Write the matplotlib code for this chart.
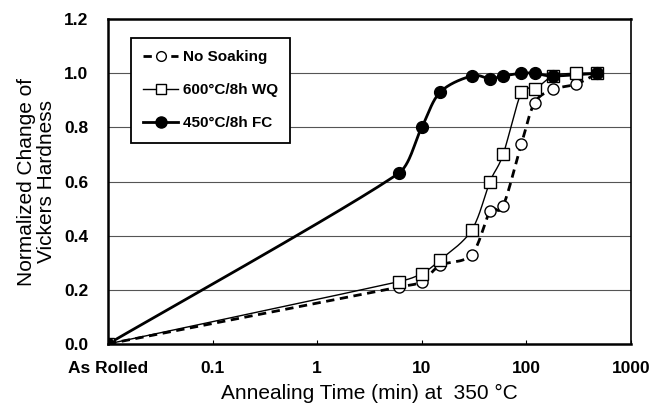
import numpy as np
import matplotlib
matplotlib.use("Agg")
from matplotlib import pyplot as plt
from matplotlib.lines import Line2D

plt.rcParams['font.family'] = ['Liberation Sans', 'DejaVu Sans']

as_rolled = 0.01  # where the "As Rolled" state sits on the log axis

# annealing time (min) and normalized change of hardness
t_nosoak = [as_rolled, 6, 10, 15, 30, 45, 60, 90, 120, 180, 300, 480]
h_nosoak = [0.0, 0.21, 0.23, 0.29, 0.33, 0.49, 0.51, 0.74, 0.89, 0.94, 0.96, 1.0]

t_wq = [as_rolled, 6, 10, 15, 30, 45, 60, 90, 120, 180, 300, 480]
h_wq = [0.0, 0.23, 0.26, 0.31, 0.42, 0.60, 0.70, 0.93, 0.94, 0.99, 1.0, 1.0]

t_fc = [as_rolled, 6, 10, 15, 30, 45, 60, 90, 120, 180, 480]
h_fc = [0.0, 0.63, 0.80, 0.93, 0.99, 0.98, 0.99, 1.0, 1.0, 0.99, 1.0]

x_ticks = [as_rolled, 0.1, 1, 10, 100, 1000]
x_labels = ['As Rolled', '0.1', '1', '10', '100', '1000']
labels = ['No Soaking', '600°C/8h WQ', '450°C/8h FC']


def smooth(t, h, n=30):
    # excel-like smoothed line, done in log-x space
    p = np.column_stack([np.log10(t), h])
    out = []
    for i in range(len(p) - 1):
        a = p[i - 1] if i > 0 else p[i]
        d = p[i + 2] if i + 2 < len(p) else p[i + 1]
        dx = p[i + 1, 0] - p[i, 0]
        m1 = (p[i + 1] - a) / 6
        m2 = (d - p[i]) / 6
        # keep control points inside the segment (no loops)
        if m1[0] > dx / 2:
            m1 = m1 * (dx / 2) / m1[0]
        if m2[0] > dx / 2:
            m2 = m2 * (dx / 2) / m2[0]
        c1 = p[i] + m1
        c2 = p[i + 1] - m2
        s = np.linspace(0, 1, n)[:, None]
        seg = ((1 - s) ** 3 * p[i] + 3 * (1 - s) ** 2 * s * c1
               + 3 * (1 - s) * s ** 2 * c2 + s ** 3 * p[i + 1])
        out.append(seg if i == 0 else seg[1:])
    out = np.vstack(out)
    return 10 ** out[:, 0], out[:, 1]


fig = plt.figure(figsize=(6.51, 4.07), dpi=100)
ax = fig.add_axes([0.166, 0.155, 0.803, 0.798])

for y in [0.2, 0.4, 0.6, 0.8, 1.0]:
    ax.axhline(y, color='#555555', lw=0.8, zorder=0)

xs, ys = smooth(t_nosoak, h_nosoak)
ax.plot(xs, ys, color='black', lw=2, dashes=(3, 2), zorder=2)
ax.plot(t_nosoak, h_nosoak, 'o', ms=8, mfc='white', mec='black', mew=1, zorder=3)

xs, ys = smooth(t_wq, h_wq)
ax.plot(xs, ys, color='black', lw=1, zorder=2)
ax.plot(t_wq, h_wq, 's', ms=8, mfc='white', mec='black', mew=1, zorder=4)

xs, ys = smooth(t_fc, h_fc)
ax.plot(xs, ys, color='black', lw=2, zorder=2)
ax.plot(t_fc, h_fc, 'o', ms=8.5, color='black', zorder=5)

ax.set_xscale('log')
ax.set_xlim(as_rolled, 1000)
ax.set_ylim(0, 1.2)
ax.set_xticks(x_ticks)
ax.set_xticklabels(x_labels)
ax.minorticks_off()
ax.set_yticks(np.arange(0, 1.21, 0.2))
ax.set_yticklabels(['%.1f' % v for v in np.arange(0, 1.21, 0.2)])
ax.tick_params(axis='x', direction='in', length=3, labelsize=12.5, pad=12)
ax.tick_params(axis='y', length=0, labelsize=12.5, pad=14)
for lab in ax.get_xticklabels() + ax.get_yticklabels():
    lab.set_fontweight('bold')

for side in ['left', 'bottom', 'top']:
    ax.spines[side].set_linewidth(1.8)
ax.spines['right'].set_linewidth(1.2)

ax.set_xlabel('Annealing Time (min) at  350 °C', fontsize=15, labelpad=6)
ax.set_ylabel('Normalized Change of\nVickers Hardness', fontsize=15,
              labelpad=6, linespacing=1.05)

handles = [
    Line2D([], [], color='black', lw=2, dashes=(3, 2), marker='o', ms=7,
           mfc='white', mec='black'),
    Line2D([], [], color='black', lw=1, marker='s', ms=7, mfc='white', mec='black'),
    Line2D([], [], color='black', lw=2, marker='o', ms=8),
]
leg = ax.legend(handles, labels, loc='upper left', bbox_to_anchor=(0.044, 0.942),
                borderaxespad=0, frameon=True, fancybox=False, framealpha=1,
                edgecolor='black', handlelength=2.3, labelspacing=1.25,
                borderpad=0.8, handletextpad=0.3,
                prop={'size': 11, 'weight': 'bold'})
leg.get_frame().set_linewidth(1.3)

fig.savefig('out.png', dpi=100)
